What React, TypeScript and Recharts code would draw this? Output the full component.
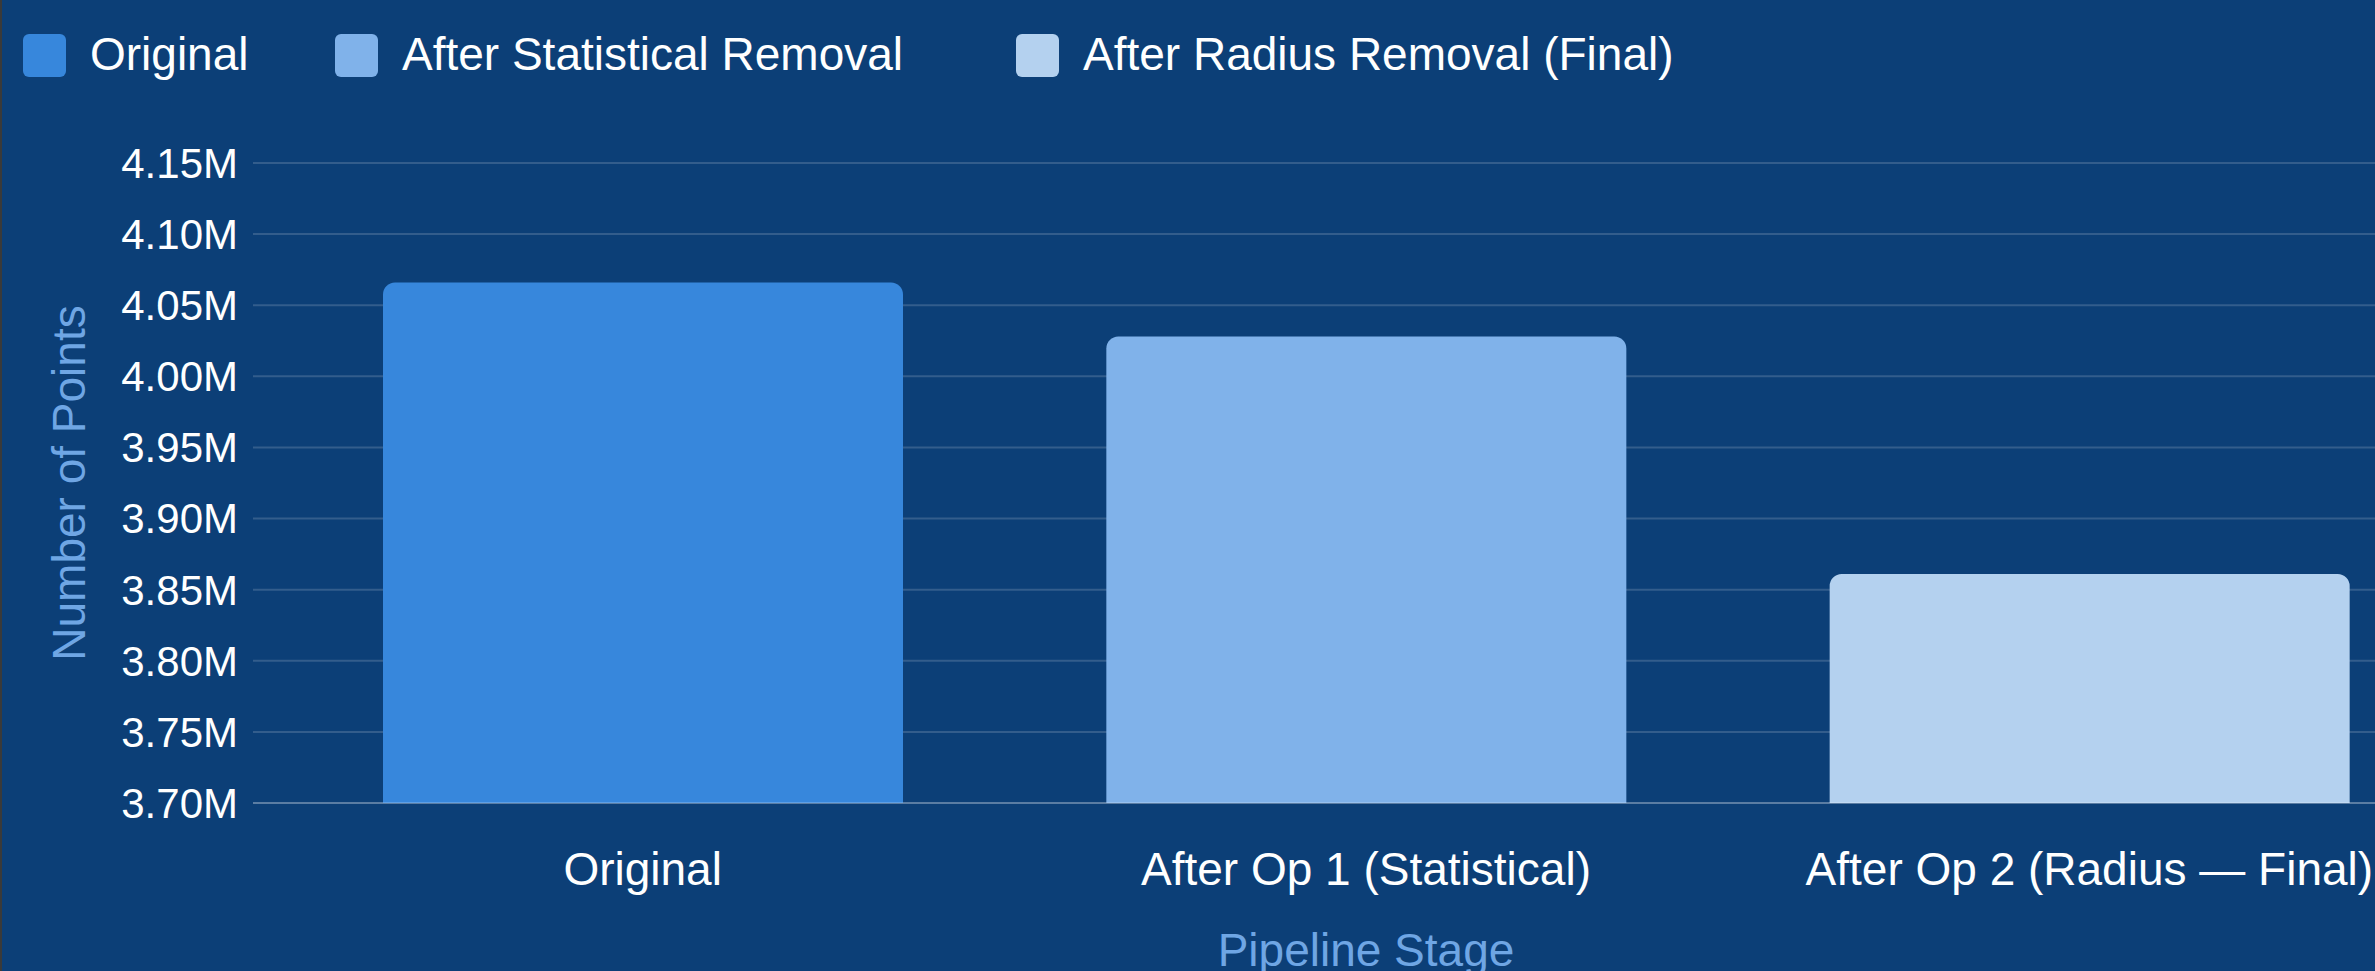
import { Bar, BarChart, CartesianGrid, Cell, Legend, XAxis, YAxis } from 'recharts'

const stages = ['Original', 'After Op 1 (Statistical)', 'After Op 2 (Radius — Final)']
const pointCounts = [4066000, 4028000, 3861000]
const legendLabels = ['Original', 'After Statistical Removal', 'After Radius Removal (Final)']
const yTicks = [3700000, 3750000, 3800000, 3850000, 3900000, 3950000, 4000000, 4050000, 4100000, 4150000]

const barColors = ['#3787dc', '#80b2ea', '#b4d1ef']
const legendLeft = [23, 335, 1016]

const BG = '#0c3f77'
const FONT = '"Liberation Sans", Arial, Helvetica, sans-serif'
const AXIS_TITLE = '#6fa6e4'

const data = stages.map((stage, i) => ({ stage, points: pointCounts[i] }))

const formatMillions = (v: number) => `${(v / 1e6).toFixed(2)}M`

function LegendRow() {
  return (
    <div style={{ position: 'relative', height: 100, fontFamily: FONT }}>
      {legendLabels.map((label, i) => (
        <div key={label}>
          <div
            style={{
              position: 'absolute',
              left: legendLeft[i],
              top: 34,
              width: 43,
              height: 43,
              borderRadius: 6,
              background: barColors[i],
            }}
          />
          <span
            style={{
              position: 'absolute',
              left: legendLeft[i] + 67,
              top: 31,
              fontSize: 46,
              lineHeight: '46px',
              color: '#ffffff',
              whiteSpace: 'nowrap',
            }}
          >
            {label}
          </span>
        </div>
      ))}
    </div>
  )
}

export default function App() {
  return (
    <div
      style={{
        position: 'fixed',
        left: 0,
        top: 0,
        width: 2375,
        height: 971,
        overflow: 'hidden',
        background: BG,
        fontFamily: FONT,
      }}
    >
      <BarChart
        width={2500}
        height={1000}
        data={data}
        margin={{ top: 63, right: 21, bottom: 27, left: 0 }}
        style={{ fontFamily: FONT }}
      >
        <Legend
          verticalAlign="top"
          align="left"
          wrapperStyle={{ top: 0, left: 0, width: 2500 }}
          content={() => <LegendRow />}
        />
        <CartesianGrid vertical={false} stroke="rgba(255,255,255,0.16)" strokeWidth={2} />
        <XAxis
          dataKey="stage"
          interval={0}
          padding={{ left: 28, right: 28 }}
          height={170}
          tickLine={false}
          tickSize={0}
          tickMargin={49}
          axisLine={{ stroke: 'rgba(255,255,255,0.2)', strokeWidth: 2 }}
          tick={{ fill: '#ffffff', fontSize: 46 }}
          label={{
            value: 'Pipeline Stage',
            position: 'insideBottom',
            offset: 7,
            fill: AXIS_TITLE,
            fontSize: 46,
          }}
        />
        <YAxis
          width={253}
          domain={[3700000, 4150000]}
          ticks={yTicks}
          tickFormatter={formatMillions}
          axisLine={false}
          tickLine={false}
          tickSize={0}
          tickMargin={15}
          tick={{ fill: '#ffffff', fontSize: 42 }}
          label={(props: any) => {
            const vb = props.viewBox || {}
            const cx = (vb.x ?? 0) + 85
            const cy = (vb.y ?? 0) + (vb.height ?? 0) / 2
            return (
              <text
                x={cx}
                y={cy}
                transform={`rotate(-90 ${cx} ${cy})`}
                textAnchor="middle"
                fill={AXIS_TITLE}
                fontSize={46}
              >
                Number of Points
              </text>
            )
          }}
        />
        <Bar dataKey="points" barSize={520} radius={[12, 12, 0, 0]} isAnimationActive={false}>
          {data.map((d, i) => (
            <Cell key={d.stage} fill={barColors[i]} />
          ))}
        </Bar>
      </BarChart>
      <div style={{ position: 'absolute', left: 0, top: 0, width: 2, height: 971, background: '#3a3a3a' }} />
    </div>
  )
}
